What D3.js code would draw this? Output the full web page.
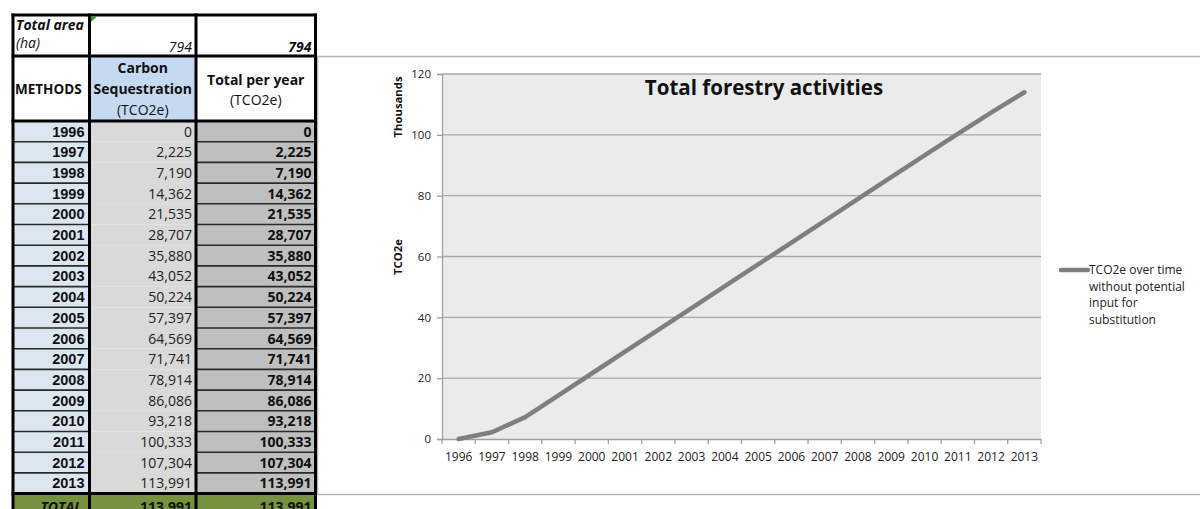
<!DOCTYPE html>
<html><head><meta charset="utf-8">
<script src="https://cdn.jsdelivr.net/npm/d3@7"></script>
<style>body{margin:0;background:#fff;} svg{display:block;}</style>
</head><body><svg id="c" width="1200" height="509"></svg>
<script>
// ---- data ----
const years = ["1996","1997","1998","1999","2000","2001","2002","2003","2004","2005","2006","2007","2008","2009","2010","2011","2012","2013"];
const carbonSequestration = [0,2225,7190,14362,21535,28707,35880,43052,50224,57397,64569,71741,78914,86086,93218,100333,107304,113991];
const totalPerYear = [0,2225,7190,14362,21535,28707,35880,43052,50224,57397,64569,71741,78914,86086,93218,100333,107304,113991];
const totalArea = [794, 794];
const totals = [113991, 113991];
const yTicks = [0,20,40,60,80,100,120];
const chartTitle = "Total forestry activities";
const legendLines = ["TCO2e over time","without potential","input for","substitution"];

const svg = d3.select("#c");
const fmt = d3.format(",");
const CAL = "'Open Sans', Lato, sans-serif";
const NAR = "'Liberation Sans Narrow', 'Arial Narrow', 'Liberation Sans', sans-serif";

// ---- chart frame ----
const frame = svg.append("g");
frame.append("line").attr("x1",317).attr("x2",1200).attr("y1",56.5).attr("y2",56.5).attr("stroke","#b5b5b5").attr("stroke-width",1.5);
frame.append("line").attr("x1",317).attr("x2",1200).attr("y1",494.5).attr("y2",494.5).attr("stroke","#b5b5b5").attr("stroke-width",1.5);
frame.append("line").attr("x1",317.5).attr("x2",317.5).attr("y1",56).attr("y2",495).attr("stroke","#b5b5b5").attr("stroke-width",1.5);

// ---- table ----
const colX = [13, 89.5, 196, 315.5];
const rowTop = 121, rowH = 20.7;
const t = svg.append("g");
t.append("rect").attr("x",colX[1]).attr("y",56).attr("width",colX[2]-colX[1]).attr("height",65).attr("fill","#c5d9f1");
years.forEach((yr,i)=>{
  const y0 = rowTop + i*rowH;
  t.append("rect").attr("x",colX[0]).attr("y",y0).attr("width",colX[1]-colX[0]).attr("height",rowH).attr("fill","#dce6f1");
  t.append("rect").attr("x",colX[1]).attr("y",y0).attr("width",colX[2]-colX[1]).attr("height",rowH).attr("fill","#d9d9d9");
  t.append("rect").attr("x",colX[2]).attr("y",y0).attr("width",colX[3]-colX[2]).attr("height",rowH).attr("fill","#bfbfbf");
});
const totY = rowTop + years.length*rowH;
t.append("rect").attr("x",colX[0]).attr("y",totY).attr("width",colX[3]-colX[0]).attr("height",30).attr("fill","#76923c");
years.forEach((yr,i)=>{
  if(i===0) return;
  const y0 = rowTop + i*rowH;
  [[colX[0],colX[1]],[colX[2],colX[3]]].forEach(([a,b])=>{
    t.append("line").attr("x1",a).attr("x2",b).attr("y1",y0).attr("y2",y0).attr("stroke","#2a2a2a").attr("stroke-width",1.6);
  });
});
years.forEach((yr,i)=>{
  const yb = rowTop + i*rowH + 15.5;
  t.append("text").attr("x",colX[1]-5).attr("y",yb).attr("text-anchor","end").attr("font-family",NAR).attr("font-weight","bold").attr("font-size",14.5).attr("fill","#111").text(yr);
  t.append("text").attr("x",colX[2]-4).attr("y",yb).attr("text-anchor","end").attr("font-family",CAL).attr("font-size",14).attr("fill","#222").text(fmt(carbonSequestration[i]));
  t.append("text").attr("x",colX[3]-4).attr("y",yb).attr("text-anchor","end").attr("font-family",CAL).attr("font-weight","bold").attr("font-size",14).attr("fill","#111").text(fmt(totalPerYear[i]));
});
const txt = (x,y,s,opts={})=>t.append("text").attr("x",x).attr("y",y).attr("font-family",opts.fam||CAL).attr("font-size",opts.size||14)
  .attr("font-weight",opts.bold?"bold":"normal").attr("font-style",opts.italic?"italic":"normal").attr("text-anchor",opts.anchor||"start").attr("fill",opts.fill||"#111").text(s);
txt(16,30,"Total area",{bold:true,italic:true});
txt(16,48,"(ha)",{italic:true});
txt(colX[2]-4,52,fmt(totalArea[0]),{italic:true,anchor:"end"});
txt(colX[3]-4,52,fmt(totalArea[1]),{italic:true,bold:true,anchor:"end"});
txt(15,94,"METHODS",{bold:true,size:13.5});
const c2 = (colX[1]+colX[2])/2, c3 = (colX[2]+colX[3])/2;
txt(c2,73,"Carbon",{bold:true,anchor:"middle"});
txt(c2,94,"Sequestration",{bold:true,anchor:"middle"});
txt(c2,115,"(TCO2e)",{anchor:"middle"});
txt(c3,85,"Total per year",{bold:true,anchor:"middle"});
txt(c3,105,"(TCO2e)",{anchor:"middle"});
txt(colX[1]-8,512,"TOTAL",{bold:true,italic:true,anchor:"end"});
txt(colX[2]-4,512,fmt(totals[0]),{bold:true,anchor:"end"});
txt(colX[3]-4,512,fmt(totals[1]),{bold:true,anchor:"end"});
[colX[0],colX[1],colX[2],colX[3]].forEach(x=>{
  t.append("line").attr("x1",x).attr("x2",x).attr("y1",13.5).attr("y2",509).attr("stroke","#000").attr("stroke-width",3);
});
[15, 56, 121, totY].forEach(y=>{
  t.append("line").attr("x1",colX[0]-1.5).attr("x2",colX[3]+1.5).attr("y1",y).attr("y2",y).attr("stroke","#000").attr("stroke-width",3);
});
t.append("path").attr("d",`M${colX[1]+1.5},16.5 L${colX[1]+7.5},16.5 L${colX[1]+1.5},22 Z`).attr("fill","#2e9a2e");

// ---- chart ----
const x = d3.scaleBand().domain(years).range([442, 1041]);
const y = d3.scaleLinear().domain([0,120]).range([439, 74]);
const ch = svg.append("g");
ch.append("rect").attr("x",442).attr("y",74).attr("width",1041-442).attr("height",439-74).attr("fill","#ebebeb");
ch.selectAll("line.grid").data(yTicks.filter(d=>d>0)).join("line").attr("class","grid")
  .attr("x1",442).attr("x2",1041).attr("y1",d=>y(d)).attr("y2",d=>y(d)).attr("stroke","#a8a8a8").attr("stroke-width",1.3);
const ya = ch.append("g").attr("transform","translate(442,0)").call(d3.axisLeft(y).tickValues(yTicks).tickSize(5).tickPadding(6));
ya.select(".domain").attr("stroke","#a0a0a0").attr("stroke-width",1.3);
ya.selectAll(".tick line").attr("stroke","#a0a0a0").attr("stroke-width",1.3);
ya.selectAll(".tick text").attr("font-family",CAL).attr("font-size",11.5).attr("fill","#222");
const xa = ch.append("g").attr("transform","translate(0,439)").call(d3.axisBottom(x).tickSize(0).tickPadding(13));
xa.select(".domain").attr("stroke","#a0a0a0").attr("stroke-width",1.3);
xa.selectAll(".tick text").attr("font-family",CAL).attr("font-size",12).attr("fill","#222");
const bounds = years.map(d=>x(d)).concat([x(years[years.length-1])+x.bandwidth()]);
ch.selectAll("line.xt").data(bounds).join("line").attr("class","xt")
  .attr("x1",d=>d).attr("x2",d=>d).attr("y1",439).attr("y2",444).attr("stroke","#a0a0a0").attr("stroke-width",1.3);
ch.append("text").attr("transform","translate(402,107) rotate(-90)").attr("text-anchor","middle").attr("font-family",CAL).attr("font-weight","bold").attr("font-size",11.3).attr("fill","#111").text("Thousands");
ch.append("text").attr("transform","translate(402,257) rotate(-90)").attr("text-anchor","middle").attr("font-family",CAL).attr("font-weight","bold").attr("font-size",11.3).attr("fill","#111").text("TCO2e");
ch.append("text").attr("x",764).attr("y",95).attr("text-anchor","middle").attr("font-family",CAL).attr("font-weight","bold").attr("font-size",20.5).attr("fill","#111").text(chartTitle);
const line = d3.line().x((d,i)=>x(years[i])+x.bandwidth()/2).y(d=>y(d/1000));
ch.append("path").datum(totalPerYear).attr("d",line).attr("fill","none").attr("stroke","#7f7f7f").attr("stroke-width",4.5).attr("stroke-linejoin","round").attr("stroke-linecap","round");
ch.append("line").attr("x1",1061).attr("x2",1088).attr("y1",270).attr("y2",270).attr("stroke","#7f7f7f").attr("stroke-width",4.5).attr("stroke-linecap","round");
ch.selectAll("text.leg").data(legendLines).join("text").attr("class","leg")
  .attr("x",1089).attr("y",(d,i)=>274+i*16.7).attr("font-family",CAL).attr("font-size",12).attr("fill","#222").text(d=>d);
</script></body></html>
